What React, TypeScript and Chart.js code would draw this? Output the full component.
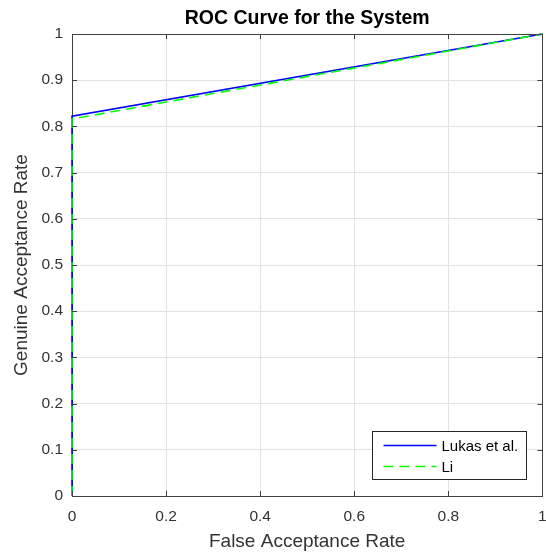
import { useEffect, useRef } from 'react';
import { Chart, registerables } from 'chart.js';

Chart.register(...registerables);

const titleText = 'ROC Curve for the System';
const xLabel = 'False Acceptance Rate';
const yLabel = 'Genuine Acceptance Rate';
const seriesNames = ['Lukas et al.', 'Li'];
const lukasFAR = [0, 0, 1];
const lukasGAR = [0, 0.822, 1];
const liFAR = [0, 0, 1];
const liGAR = [0, 0.816, 1];
const xTicks = [0, 0.2, 0.4, 0.6, 0.8, 1];
const yTicks = [0, 0.1, 0.2, 0.3, 0.4, 0.5, 0.6, 0.7, 0.8, 0.9, 1];

const FONT = "'Liberation Sans', Arial, Helvetica, sans-serif";
const AXIS = '#404040';
const GRID = '#e2e2e2';
const TEXT = '#333333';
const BLUE = '#0000ff';
const GREEN = '#00ff00';
const DASH = [10, 6];

const overlay = {
  id: 'overlay',
  afterDraw(chart: any) {
    const { ctx, chartArea: a, scales } = chart;
    ctx.save();
    // frame top/right
    ctx.strokeStyle = AXIS;
    ctx.lineWidth = 1;
    ctx.beginPath();
    ctx.moveTo(Math.round(a.left), Math.round(a.top) + 0.5);
    ctx.lineTo(Math.round(a.right) + 0.5, Math.round(a.top) + 0.5);
    ctx.lineTo(Math.round(a.right) + 0.5, Math.round(a.bottom));
    ctx.stroke();
    // inward ticks
    const tl = 5;
    ctx.beginPath();
    for (const v of xTicks) {
      const px = Math.round(scales.x.getPixelForValue(v)) + 0.5;
      ctx.moveTo(px, a.bottom);
      ctx.lineTo(px, a.bottom - tl);
      ctx.moveTo(px, a.top);
      ctx.lineTo(px, a.top + tl);
    }
    for (const v of yTicks) {
      const py = Math.round(scales.y.getPixelForValue(v)) + 0.5;
      ctx.moveTo(a.left, py);
      ctx.lineTo(a.left + tl, py);
      ctx.moveTo(a.right, py);
      ctx.lineTo(a.right - tl, py);
    }
    ctx.stroke();
    // title
    ctx.fillStyle = '#000';
    ctx.font = `bold 19.5px ${FONT}`;
    ctx.textAlign = 'center';
    ctx.textBaseline = 'alphabetic';
    ctx.fillText(titleText, (a.left + a.right) / 2, 24);
    // legend
    const w = 154;
    const h = 48;
    const lx = Math.round(a.right - 16 - w) + 0.5;
    const ly = Math.round(a.bottom - 17 - h) + 0.5;
    ctx.fillStyle = '#ffffff';
    ctx.fillRect(lx, ly, w, h);
    ctx.strokeStyle = '#262626';
    ctx.lineWidth = 1;
    ctx.strokeRect(lx, ly, w, h);
    const rows = [
      { name: seriesNames[0], color: BLUE, dash: [] as number[] },
      { name: seriesNames[1], color: GREEN, dash: DASH },
    ];
    rows.forEach((r, i) => {
      const y = ly + 14 + i * 21;
      ctx.strokeStyle = r.color;
      ctx.lineWidth = 1.5;
      ctx.setLineDash(r.dash);
      ctx.beginPath();
      ctx.moveTo(lx + 11, y);
      ctx.lineTo(lx + 64, y);
      ctx.stroke();
      ctx.setLineDash([]);
      ctx.fillStyle = '#000';
      ctx.font = `15px ${FONT}`;
      ctx.textAlign = 'left';
      ctx.textBaseline = 'middle';
      ctx.fillText(r.name, lx + 69, y + 1);
    });
    ctx.restore();
  },
};

export default function App() {
  const ref = useRef<HTMLCanvasElement>(null);
  useEffect(() => {
    if (!ref.current) return;
    const chart = new Chart(ref.current, {
      type: 'scatter',
      data: {
        datasets: [
          {
            label: seriesNames[0],
            data: lukasFAR.map((x, i) => ({ x, y: lukasGAR[i] })),
            showLine: true,
            borderColor: BLUE,
            backgroundColor: BLUE,
            borderWidth: 1.6,
            pointRadius: 0,
            fill: false,
            clip: false,
            order: 1,
          },
          {
            label: seriesNames[1],
            data: liFAR.map((x, i) => ({ x, y: liGAR[i] })),
            showLine: true,
            borderColor: GREEN,
            backgroundColor: GREEN,
            borderWidth: 1.6,
            borderDash: DASH,
            pointRadius: 0,
            fill: false,
            clip: false,
            order: 0,
          },
        ],
      },
      options: {
        responsive: false,
        animation: false,
        events: [],
        layout: { padding: { top: 34, right: 3.6, left: 0, bottom: 0 } },
        plugins: {
          legend: { display: false },
          tooltip: { enabled: false },
          title: { display: false },
        },
        scales: {
          x: {
            type: 'linear',
            min: 0,
            max: 1,
            afterBuildTicks: (s: any) => {
              s.ticks = xTicks.map((v) => ({ value: v }));
            },
            afterFit: (s: any) => {
              s.height = 58;
              s.paddingRight = 0;
            },
            grid: { color: GRID, drawTicks: false, lineWidth: 1 },
            border: { color: AXIS, width: 1 },
            ticks: {
              padding: 11,
              color: TEXT,
              font: { family: FONT, size: 15.5 },
              maxRotation: 0,
              autoSkip: false,
              callback: (v: any) => String(v),
            },
            title: {
              display: true,
              text: xLabel,
              color: TEXT,
              font: { family: FONT, size: 19 },
              padding: { top: 0, bottom: 1 },
            },
          },
          y: {
            type: 'linear',
            min: 0,
            max: 1,
            afterBuildTicks: (s: any) => {
              s.ticks = yTicks.map((v) => ({ value: v }));
            },
            afterFit: (s: any) => {
              s.width = 72;
            },
            grid: { color: GRID, drawTicks: false, lineWidth: 1 },
            border: { color: AXIS, width: 1 },
            ticks: {
              padding: 9,
              color: TEXT,
              font: { family: FONT, size: 15.5 },
              autoSkip: false,
              callback: (v: any) => String(v),
            },
            title: {
              display: true,
              text: yLabel,
              color: TEXT,
              font: { family: FONT, size: 19 },
              padding: { top: 10, bottom: 0 },
            },
          },
        },
      },
      plugins: [overlay],
    });
    return () => chart.destroy();
  }, []);
  return (
    <div style={{ position: 'fixed', left: 0, top: 0, width: 546, height: 554, background: '#fff' }}>
      <canvas ref={ref} width={546} height={554} style={{ display: 'block' }} />
    </div>
  );
}
